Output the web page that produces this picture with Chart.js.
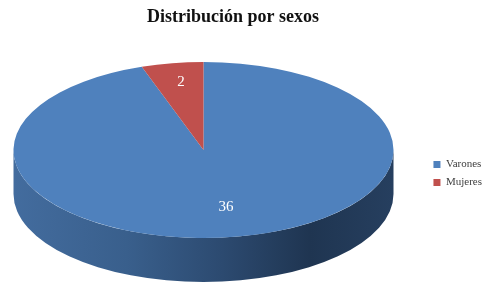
<!DOCTYPE html>
<html>
<head>
<meta charset="utf-8">
<script src="https://cdn.jsdelivr.net/npm/chart.js@4/dist/chart.umd.min.js"></script>
<style>
  html, body { margin: 0; padding: 0; background: #fff; }
  #wrap { width: 500px; height: 293px; }
</style>
</head>
<body>
<div id="wrap"><canvas id="pieChart" width="500" height="293"></canvas></div>
<script>
const categories = ['Varones', 'Mujeres'];
const values = [36, 2];
const chartTitle = 'Distribución por sexos';

const topColors = ['#4f81bd', '#c0504d'];

// geometry of the tilted disc on the page
const disc = { cx: 203.5, cy: 150, rx: 190, ry: 88, depth: 44 };

function sideFill(ctx, i) {
  const g = ctx.createLinearGradient(disc.cx - disc.rx, 0, disc.cx + disc.rx, 0);
  if (i === 0) {
    g.addColorStop(0, '#436c9e');
    g.addColorStop(0.3, '#395f8c');
    g.addColorStop(0.55, '#2c4a70');
    g.addColorStop(0.78, '#1f3551');
    g.addColorStop(1, '#263f5f');
  } else {
    g.addColorStop(0, '#9a3e3b');
    g.addColorStop(1, '#5e2423');
  }
  return g;
}

// nudge the legend to where the original puts it
const legendShift = {
  id: 'legendShift',
  afterLayout(chart) {
    const lg = chart.legend;
    if (!lg) return;
    lg.left += 26; lg.right += 26;
    lg.top += 27; lg.bottom += 27;
  }
};

const tiltPlugin = {
  id: 'tilt',
  beforeDatasetsDraw(chart) {
    const ctx = chart.ctx;
    const meta = chart.getDatasetMeta(0);
    const first = meta.data[0];
    const R = first.outerRadius;
    const { cx, cy, rx, ry, depth } = disc;

    // side wall (front half only)
    meta.data.forEach((arc, i) => {
      for (const k of [-2 * Math.PI, 0, 2 * Math.PI]) {
        const a1 = Math.max(arc.startAngle + k, 0);
        const a2 = Math.min(arc.endAngle + k, Math.PI);
        if (a2 <= a1) continue;
        ctx.save();
        ctx.beginPath();
        ctx.ellipse(cx, cy, rx, ry, 0, a1, a2, false);
        ctx.ellipse(cx, cy + depth, rx, ry, 0, a2, a1, true);
        ctx.closePath();
        ctx.fillStyle = sideFill(ctx, i);
        ctx.fill();
        ctx.restore();
      }
    });

    // squash the round pie into the top ellipse
    ctx.save();
    ctx.translate(cx, cy);
    ctx.scale(rx / R, ry / R);
    ctx.translate(-first.x, -first.y);
  },
  afterDatasetsDraw(chart) {
    const ctx = chart.ctx;
    ctx.restore();
    const meta = chart.getDatasetMeta(0);
    const { cx, rx } = disc;
    // apparent centre of the disc, raised by perspective
    const pcy = 132;
    ctx.save();
    ctx.fillStyle = '#ffffff';
    ctx.textAlign = 'center';
    ctx.textBaseline = 'middle';
    ctx.font = '15px "Liberation Serif", serif';
    meta.data.forEach((arc, i) => {
      const mid = (arc.startAngle + arc.endAngle) / 2;
      const s = Math.sin(mid);
      const f = 0.72;
      const x = cx + f * rx * Math.cos(mid);
      const y = pcy + f * (s < 0 ? 70 : 106) * s;
      ctx.fillText(String(values[i]), x, y);
    });
    ctx.restore();
  }
};

new Chart(document.getElementById('pieChart'), {
  type: 'pie',
  data: {
    labels: categories,
    datasets: [{
      data: values,
      backgroundColor: topColors,
      borderWidth: 0,
      clip: false
    }]
  },
  options: {
    responsive: false,
    animation: false,
    events: [],
    layout: { padding: { right: 34, bottom: 0 } },
    plugins: {
      title: {
        display: true,
        text: chartTitle,
        color: '#111',
        font: { family: '"Liberation Serif", serif', size: 18, weight: 'bold' },
        padding: { top: 7, bottom: 6 }
      },
      legend: {
        position: 'right',
        labels: {
          color: '#404040',
          font: { family: '"Liberation Serif", serif', size: 11 },
          boxWidth: 7,
          boxHeight: 7,
          padding: 7
        }
      },
      tooltip: { enabled: false }
    }
  },
  plugins: [tiltPlugin, legendShift]
});
</script>
</body>
</html>
